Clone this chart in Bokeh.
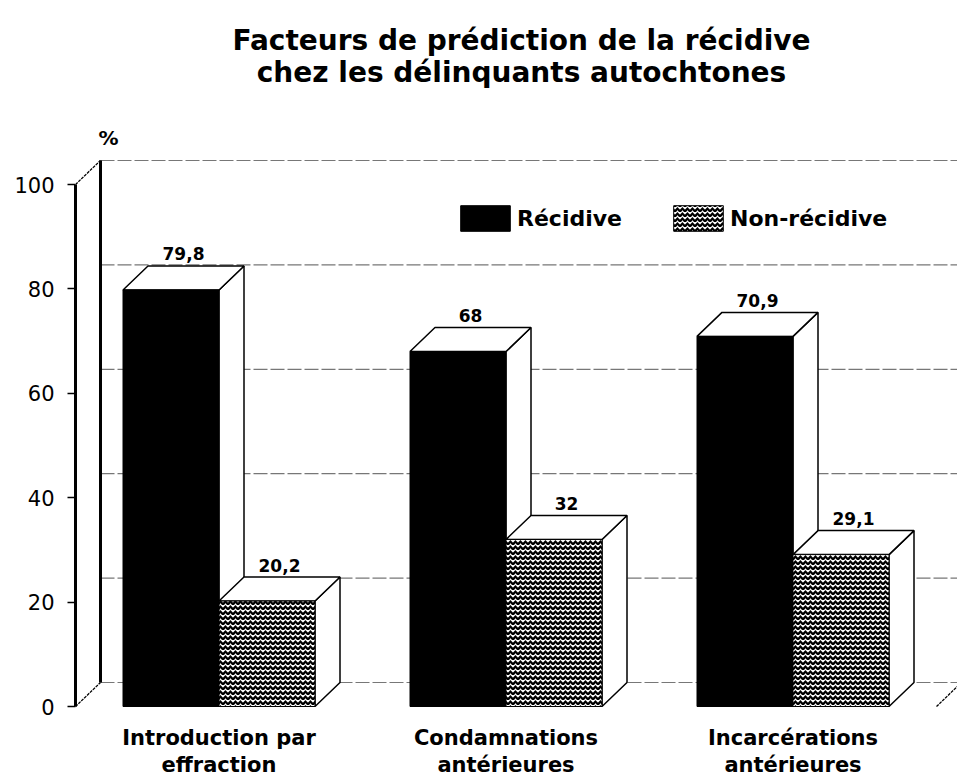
from bokeh.plotting import figure
from bokeh.models import Range1d, FixedTicker, Legend, LegendItem
from bokeh.core.properties import value
from bokeh.embed import file_html
from bokeh.resources import INLINE

# ---------------- data ----------------
title_lines = ["Facteurs de prédiction de la récidive",
               "chez les délinquants autochtones"]
cat_line1 = ["Introduction par", "Condamnations", "Incarcérations"]
cat_line2 = ["effraction", "antérieures", "antérieures"]
series_names = ["Récidive", "Non-récidive"]
recidive = [79.8, 68.0, 70.9]
non_recidive = [20.2, 32.0, 29.1]
recidive_labels = ["79,8", "68", "70,9"]
non_recidive_labels = ["20,2", "32", "29,1"]
y_ticks = [0, 20, 40, 60, 80, 100]
unit_label = "%"

# ---------------- geometry ----------------
W, H = 957, 775
FRAME_LEFT = 75          # px, axis / front wall position
XPX = 287.0              # px per category step
YPX = 5.22               # px per percent
BASE_PX = 706            # canvas y of 0 %
BAR_W = 96.0 / XPX
DX = 25.0 / XPX          # depth offset (x)
DY = 24.0 / YPX          # depth offset (y)
X0 = -0.5                # left wall position
X_END = X0 + (W - FRAME_LEFT) / XPX
FLOOR_END = len(recidive) - 0.5


def px_x(cx):
    return X0 + (cx - FRAME_LEFT) / XPX


def px_y(cy):
    return (BASE_PX - cy) / YPX


FONT = value("DejaVu Sans")

p = figure(width=W, height=H,
           x_range=Range1d(X0, X_END),
           y_range=Range1d(-(H - BASE_PX) / YPX, BASE_PX / YPX),
           output_backend="svg", toolbar_location=None,
           x_axis_type=None, y_axis_location="left",
           min_border_left=FRAME_LEFT, min_border_right=0,
           min_border_top=0, min_border_bottom=0)
p.outline_line_color = None
p.xgrid.visible = False
p.ygrid.visible = False
p.background_fill_color = "white"
p.border_fill_color = "white"

ax = p.yaxis[0]
ax.ticker = FixedTicker(ticks=y_ticks)
ax.bounds = (y_ticks[0], y_ticks[-1])
ax.axis_line_width = 3
ax.axis_line_color = "black"
ax.major_tick_out = 8
ax.major_tick_in = 0
ax.major_tick_line_width = 1.5
ax.minor_tick_line_color = None
ax.major_label_standoff = 13
ax.major_label_text_font = "DejaVu Sans"
ax.major_label_text_font_size = "21px"
ax.major_label_text_color = "black"

# ---------------- back wall grid ----------------
p.segment(x0=[X0 + DX] * len(y_ticks), x1=[X_END] * len(y_ticks),
          y0=[t + DY for t in y_ticks], y1=[t + DY for t in y_ticks],
          line_color="#777777", line_width=1.2, line_dash="14 3")

# left wall: back edge and connecting diagonals
p.segment(x0=[X0 + DX], x1=[X0 + DX], y0=[y_ticks[0] + DY], y1=[y_ticks[-1] + DY],
          line_color="black", line_width=3)
p.segment(x0=[X0, X0], x1=[X0 + DX, X0 + DX],
          y0=[y_ticks[0], y_ticks[-1]], y1=[y_ticks[0] + DY, y_ticks[-1] + DY],
          line_color="black", line_width=1.3, line_dash="3 1")
# right floor corner
p.segment(x0=[FLOOR_END], x1=[FLOOR_END + DX], y0=[0], y1=[DY],
          line_color="black", line_width=1.3, line_dash="3 1")


def faces(lefts, rights, vals):
    side_x, side_y, top_x, top_y = [], [], [], []
    for l, r, v in zip(lefts, rights, vals):
        side_x.append([r, r + DX, r + DX, r])
        side_y.append([0, DY, v + DY, v])
        top_x.append([l, l + DX, r + DX, r])
        top_y.append([v, v + DY, v + DY, v])
    return side_x, side_y, top_x, top_y


idx = list(range(len(recidive)))

# black (Récidive) bars
rl = [i - BAR_W for i in idx]
rr = [i for i in idx]
sx, sy, tx, ty = faces(rl, rr, recidive)
p.patches(sx, sy, fill_color="white", line_color="black", line_width=1.5)
p.patches(tx, ty, fill_color="white", line_color="black", line_width=1.5)
r_black = p.quad(left=rl, right=rr, bottom=[0] * 3, top=recidive,
                 fill_color="black", line_color="black", line_width=1)

# hatched (Non-récidive) bars
nl = [i for i in idx]
nr = [i + BAR_W for i in idx]
sx, sy, tx, ty = faces(nl, nr, non_recidive)
p.patches(sx, sy, fill_color="white", line_color="black", line_width=1.5)
p.patches(tx, ty, fill_color="white", line_color="black", line_width=1.5)
r_hatch = p.quad(left=nl, right=nr, bottom=[0] * 3, top=non_recidive,
                 fill_color="white", line_color="black", line_width=1,
                 hatch_pattern="horizontal_wave", hatch_color="black",
                 hatch_scale=5, hatch_weight=2.3)

# value labels
p.text(x=[(l + r) / 2 + DX / 2 for l, r in zip(rl, rr)],
       y=[v + DY + 12 / YPX for v in recidive], text=recidive_labels,
       text_align="center", text_baseline="alphabetic",
       text_font=FONT, text_font_style="bold", text_font_size="17px",
       text_color="black")
p.text(x=[(l + r) / 2 + DX / 2 for l, r in zip(nl, nr)],
       y=[v + DY + 12 / YPX for v in non_recidive], text=non_recidive_labels,
       text_align="center", text_baseline="alphabetic",
       text_font=FONT, text_font_style="bold", text_font_size="17px",
       text_color="black")

# category labels
p.text(x=idx, y=[-31 / YPX] * 3, text=cat_line1, text_align="center",
       text_baseline="alphabetic", text_font=FONT, text_font_style="bold",
       text_font_size="21px", text_color="black")
p.text(x=idx, y=[-58 / YPX] * 3, text=cat_line2, text_align="center",
       text_baseline="alphabetic", text_font=FONT, text_font_style="bold",
       text_font_size="21px", text_color="black")

# unit label
p.text(x=[X0 + DX + 8 / XPX], y=[y_ticks[-1] + DY + 23 / YPX], text=[unit_label],
       text_align="center", text_baseline="middle", text_font=FONT,
       text_font_style="bold", text_font_size="20px", text_color="black")

# title
p.text(x=[px_x(521)] * 2, y=[px_y(40), px_y(72)], text=title_lines,
       text_align="center", text_baseline="alphabetic", text_font=FONT,
       text_font_style="bold", text_font_size="28px", text_color="black")

legend = Legend(items=[LegendItem(label=series_names[0], renderers=[r_black]),
                       LegendItem(label=series_names[1], renderers=[r_hatch])],
                location=(379, 541), orientation="horizontal",
                glyph_width=62, glyph_height=32, label_standoff=1, spacing=45,
                padding=0, margin=0, border_line_color=None,
                background_fill_alpha=0,
                label_text_font="DejaVu Sans", label_text_font_style="bold",
                label_text_font_size="22px", label_text_color="black")
p.add_layout(legend, "center")

open("out.html", "w").write(file_html(p, INLINE))
